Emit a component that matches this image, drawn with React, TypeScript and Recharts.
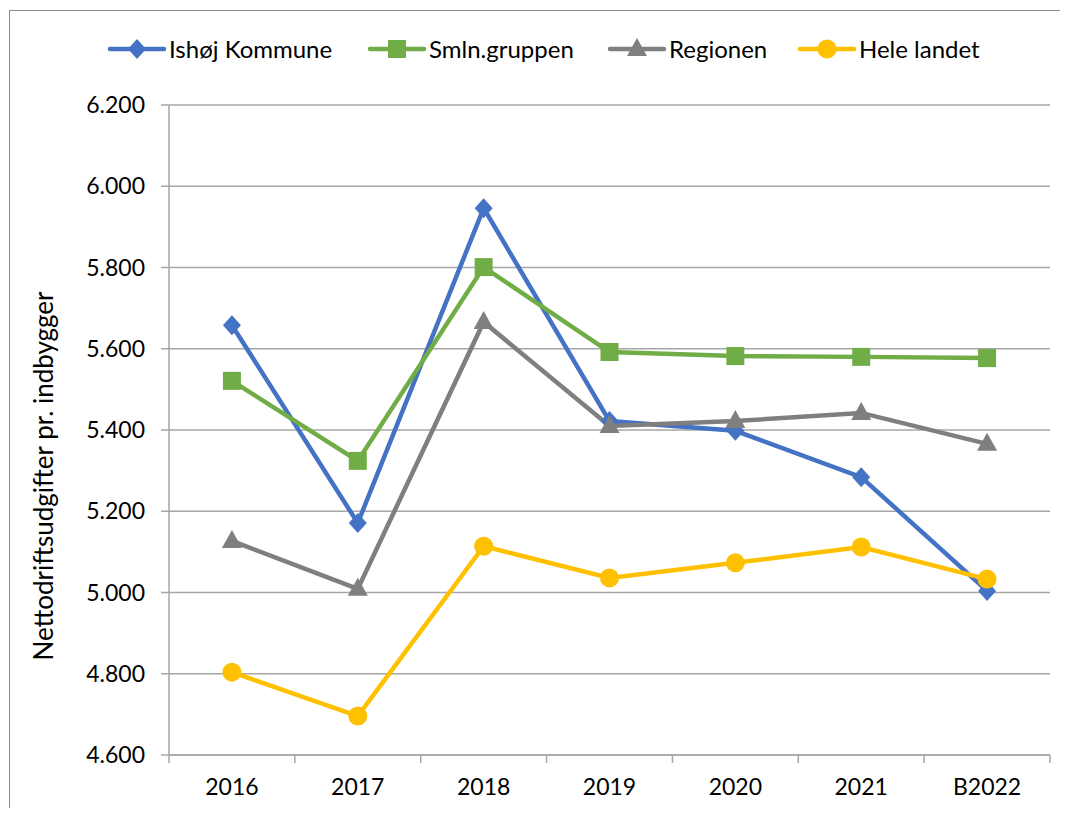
import { LineChart, Line, XAxis, YAxis, CartesianGrid } from "recharts";

const years = ["2016", "2017", "2018", "2019", "2020", "2021", "B2022"];
const ishoj = [5658, 5171, 5946, 5422, 5398, 5284, 5004];
const smln = [5521, 5324, 5801, 5592, 5582, 5580, 5577];
const regionen = [5127, 5009, 5666, 5410, 5422, 5442, 5366];
const heleLandet = [4804, 4696, 5114, 5036, 5073, 5112, 5033];
const yTicks = [4600, 4800, 5000, 5200, 5400, 5600, 5800, 6000, 6200];

const data = years.map((year, i) => ({
  year,
  ishoj: ishoj[i],
  smln: smln[i],
  regionen: regionen[i],
  hele: heleLandet[i],
}));

const FONT = "Lato, 'Open Sans', sans-serif";
const BLUE = "#4472C4";
const GREEN = "#70AD47";
const GRAY = "#7F7F7F";
const GOLD = "#FFC000";

const fmt = (v: number) => {
  const s = String(v);
  return s.length > 3 ? s.slice(0, s.length - 3) + "." + s.slice(-3) : s;
};

// marker shapes
const Diamond = (p: any) => (
  <polygon
    key={p.index}
    points={`${p.cx},${p.cy - 10} ${p.cx + 9},${p.cy} ${p.cx},${p.cy + 10} ${p.cx - 9},${p.cy}`}
    fill={BLUE}
  />
);
const Square = (p: any) => (
  <rect key={p.index} x={p.cx - 9} y={p.cy - 9} width={18} height={18} fill={GREEN} />
);
const Triangle = (p: any) => (
  <polygon
    key={p.index}
    points={`${p.cx},${p.cy - 11} ${p.cx + 10},${p.cy + 7} ${p.cx - 10},${p.cy + 7}`}
    fill={GRAY}
  />
);
const Circle = (p: any) => <circle key={p.index} cx={p.cx} cy={p.cy} r={9.5} fill={GOLD} />;

const legendItems = [
  { name: "Ishøj Kommune", color: BLUE, Shape: Diamond },
  { name: "Smln.gruppen", color: GREEN, Shape: Square },
  { name: "Regionen", color: GRAY, Shape: Triangle },
  { name: "Hele landet", color: GOLD, Shape: Circle },
];

const XTick = (p: any) => {
  const band = 881 / years.length;
  const { x, y, payload, index } = p;
  return (
    <g>
      <line x1={x - band / 2} y1={y - 8} x2={x - band / 2} y2={y} stroke="#A6A6A6" strokeWidth={1.5} />
      {index === years.length - 1 && (
        <line x1={x + band / 2} y1={y - 8} x2={x + band / 2} y2={y} stroke="#A6A6A6" strokeWidth={1.5} />
      )}
      <text x={x} y={y + 32} textAnchor="middle" fontFamily={FONT} fontSize={23} fill="#000">
        {payload.value}
      </text>
    </g>
  );
};

export default function App() {
  return (
    <div style={{ position: "relative", width: 1052, height: 800 }}>
      <div
        style={{
          position: "absolute",
          left: 1,
          top: 2,
          width: 1060,
          height: 800,
          borderLeft: "1.5px solid #8C8C8C",
          borderTop: "1.5px solid #8C8C8C",
        }}
      />
      <svg style={{ position: "absolute", left: 0, top: 0 }} width={80} height={800}>
        <text
          transform="translate(45,468) rotate(-90)"
          textAnchor="middle"
          fontFamily={FONT}
          fontSize={26}
          fill="#000"
        >
          Nettodriftsudgifter pr. indbygger
        </text>
      </svg>
      {/* legend */}
      <div
        style={{
          position: "absolute",
          left: 99,
          top: 26,
          display: "flex",
          fontFamily: FONT,
          fontSize: 24,
        }}
      >
        {legendItems.map(({ name, color, Shape }, i) => (
          <div key={name} style={{ display: "flex", alignItems: "center", width: [260, 240, 190, 200][i] }}>
            <svg width={60} height={26}>
              <line x1={3} y1={13} x2={57} y2={13} stroke={color} strokeWidth={4.5} strokeLinecap="round" />
              <Shape cx={30} cy={13} index={0} />
            </svg>
            <span style={{ marginLeft: 2, color: "#000" }}>{name}</span>
          </div>
        ))}
      </div>
      <LineChart
        width={1052}
        height={800}
        data={data}
        margin={{ top: 97, right: 10, left: 81, bottom: 23 }}
        style={{ position: "absolute", left: 0, top: 0 }}
      >
        <CartesianGrid vertical={false} stroke="#A6A6A6" strokeWidth={1.5} />
        <XAxis
          dataKey="year"
          scale="band"
          axisLine={{ stroke: "#A6A6A6", strokeWidth: 1.5 }}
          tickLine={false}
          tick={<XTick />}
          height={30}
          interval={0}
        />
        <YAxis
          domain={[4600, 6200]}
          ticks={yTicks}
          width={80}
          tickFormatter={fmt}
          axisLine={{ stroke: "#A6A6A6", strokeWidth: 1.5 }}
          tickLine={{ stroke: "#A6A6A6", strokeWidth: 1.5 }}
          tickSize={8}
          tick={{ fontFamily: FONT, fontSize: 23, fill: "#000", dx: -14 }}
        />
        <Line dataKey="ishoj" name="Ishøj Kommune" stroke={BLUE} strokeWidth={4.5} dot={Diamond} isAnimationActive={false} />
        <Line dataKey="smln" name="Smln.gruppen" stroke={GREEN} strokeWidth={4.5} dot={Square} isAnimationActive={false} />
        <Line dataKey="regionen" name="Regionen" stroke={GRAY} strokeWidth={4.5} dot={Triangle} isAnimationActive={false} />
        <Line dataKey="hele" name="Hele landet" stroke={GOLD} strokeWidth={4.5} dot={Circle} isAnimationActive={false} />
      </LineChart>
    </div>
  );
}
